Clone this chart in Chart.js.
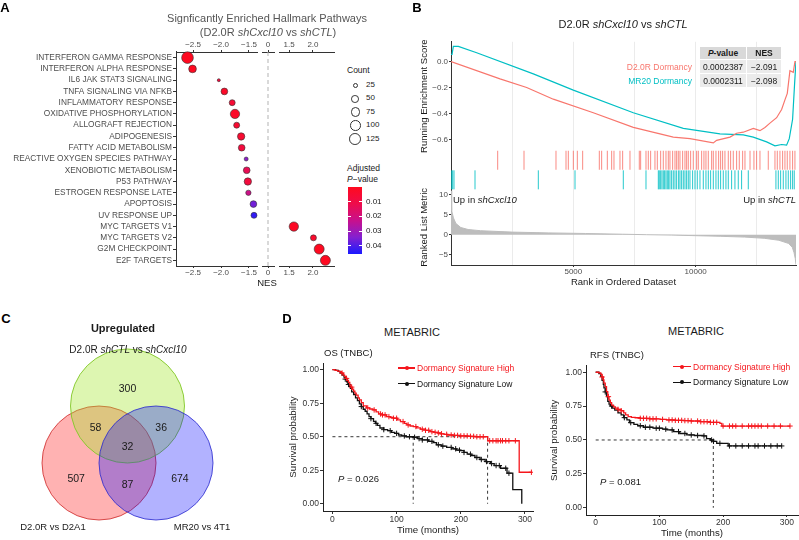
<!DOCTYPE html>
<html>
<head>
<meta charset="utf-8">
<script src="https://cdn.jsdelivr.net/npm/chart.js"></script>
<style>
  body { margin: 0; background: #fff; }
  #fig { position: relative; width: 799px; height: 540px; overflow: hidden;
         font-family: "Liberation Sans", Arial, Helvetica, sans-serif; color: #1a1a1a; }
  #fig canvas { position: absolute; }
  .t { position: absolute; white-space: nowrap; line-height: 1; }
  .c { transform: translate(-50%, -50%); }
  .l { transform: translate(0, -50%); }
  .r { transform: translate(-100%, -50%); }
  .tag { font-weight: bold; font-size: 13px; color: #000; }
  .cell { position: absolute; display: flex; align-items: center; justify-content: center; font-size: 8.5px; color: #1a1a1a; }
  .hd { background: #d9d9d9; font-weight: bold; }
  .bd { background: #ebebeb; }
</style>
</head>
<body>
<div id="fig">
  <canvas id="nesChart" width="345" height="292" style="left:0;top:0"></canvas>
  <canvas id="gseaChart" width="399" height="253" style="left:400px;top:36px"></canvas>
  <canvas id="vennChart" width="260" height="195" style="left:0;top:345px"></canvas>
  <canvas id="osChart" width="252" height="185" style="left:285px;top:355px"></canvas>
  <canvas id="rfsChart" width="253" height="185" style="left:546px;top:355px"></canvas>

  <!-- panel A -->
  <div class="t c tag" style="left:5px;top:7px">A</div>
  <div class="t c" style="left:267px;top:18px;font-size:11px;color:#555">Signficantly Enriched Hallmark Pathways</div>
  <div class="t c" style="left:268px;top:32px;font-size:11px;color:#555">(D2.0R <i>shCxcl10</i> vs <i>shCTL</i>)</div>
  <div class="t c" style="left:267px;top:283px;font-size:9.5px">NES</div>
  <div class="t l" style="left:347px;top:70px;font-size:8.5px">Count</div>
  <div class="t l" style="left:347px;top:168px;font-size:8.5px">Adjusted</div>
  <div class="t l" style="left:347px;top:179px;font-size:8.5px"><i>P</i>&minus;value</div>

  <!-- panel B -->
  <div class="t c tag" style="left:417px;top:7px">B</div>
  <div class="t c" style="left:623px;top:24px;font-size:11px">D2.0R <i>shCxcl10</i> vs <i>shCTL</i></div>
  <div class="cell hd" style="left:700px;top:47px;width:46px;height:12px"><i>P</i>-value</div>
  <div class="cell hd" style="left:747px;top:47px;width:34px;height:12px">NES</div>
  <div class="cell bd" style="left:700px;top:60px;width:46px;height:13px">0.0002387</div>
  <div class="cell bd" style="left:747px;top:60px;width:34px;height:13px">&minus;2.091</div>
  <div class="cell bd" style="left:700px;top:74px;width:46px;height:13px">0.0002311</div>
  <div class="cell bd" style="left:747px;top:74px;width:34px;height:13px">&minus;2.098</div>
  <div class="t r" style="left:692px;top:67px;font-size:8.5px;color:#f8766d">D2.0R Dormancy</div>
  <div class="t r" style="left:692px;top:81px;font-size:8.5px;color:#00bfc4">MR20 Dormancy</div>
  <div class="t l" style="left:453px;top:200px;font-size:9.5px">Up in <i>shCxcl10</i></div>
  <div class="t r" style="left:796px;top:200px;font-size:9.5px">Up in <i>shCTL</i></div>

  <!-- panel C -->
  <div class="t c tag" style="left:6px;top:318px">C</div>
  <div class="t c" style="left:123px;top:328px;font-size:11px;font-weight:bold">Upregulated</div>
  <div class="t c" style="left:128px;top:350px;font-size:10px">D2.0R <i>shCTL</i> vs <i>shCxcl10</i></div>
  <div class="t c" style="left:53px;top:527px;font-size:9.5px">D2.0R vs D2A1</div>
  <div class="t c" style="left:202px;top:527px;font-size:9.5px">MR20 vs 4T1</div>

  <!-- panel D -->
  <div class="t c tag" style="left:287px;top:318px">D</div>
  <div class="t c" style="left:412px;top:332px;font-size:11px">METABRIC</div>
  <div class="t l" style="left:324px;top:353px;font-size:9.5px">OS (TNBC)</div>
  <div class="t l" style="left:338px;top:479px;font-size:9.5px"><i>P</i> = 0.026</div>
  <div class="t c" style="left:696px;top:331px;font-size:11px">METABRIC</div>
  <div class="t l" style="left:590px;top:355px;font-size:9.5px">RFS (TNBC)</div>
  <div class="t l" style="left:600px;top:482px;font-size:9.5px"><i>P</i> = 0.081</div>
</div>

<script>
Chart.defaults.font.family = '"Liberation Sans", Arial, Helvetica, sans-serif';
Chart.defaults.animation = false;
Chart.defaults.plugins.legend.display = false;
Chart.defaults.plugins.tooltip.enabled = false;

// ---------- A: hallmark pathways ----------
const pathways = [
    'INTERFERON GAMMA RESPONSE', 'INTERFERON ALPHA RESPONSE', 'IL6 JAK STAT3 SIGNALING',
    'TNFA SIGNALING VIA NFKB', 'INFLAMMATORY RESPONSE', 'OXIDATIVE PHOSPHORYLATION',
    'ALLOGRAFT REJECTION', 'ADIPOGENESIS', 'FATTY ACID METABOLISM',
    'REACTIVE OXYGEN SPECIES PATHWAY', 'XENOBIOTIC METABOLISM', 'P53 PATHWAY',
    'ESTROGEN RESPONSE LATE', 'APOPTOSIS', 'UV RESPONSE UP', 'MYC TARGETS V1',
    'MYC TARGETS V2', 'G2M CHECKPOINT', 'E2F TARGETS'
];
const nes = [-2.60, -2.51, -2.04, -1.94, -1.80, -1.75, -1.72, -1.64, -1.63, -1.55,
             -1.54, -1.52, -1.51, -1.42, -1.41, 1.60, 2.01, 2.13, 2.26];
const geneCount = [137, 59, 9, 45, 36, 87, 36, 54, 45, 16, 45, 54, 28, 45, 36, 87, 36, 100, 100];
const padj = [0.001, 0.001, 0.008, 0.003, 0.006, 0.003, 0.005, 0.005, 0.008, 0.033,
              0.013, 0.008, 0.022, 0.036, 0.043, 0.002, 0.004, 0.001, 0.001];
const countBreaks = [25, 50, 75, 100, 125];
const padjBreaks = [0.01, 0.02, 0.03, 0.04];
const nesTicksLeft = [-2.5, -2.0, -1.5];
const nesTicksMid = [0];
const nesTicksRight = [1.5, 2.0];

const padjLimits = [0.0002, 0.0454];
const padjStops = [[0, [255, 10, 30]], [0.25, [238, 12, 75]], [0.5, [200, 16, 140]],
                   [0.75, [132, 32, 208]], [1, [26, 26, 255]]];

function padjColour(p) {
    const t = Math.min(1, Math.max(0, (p - padjLimits[0]) / (padjLimits[1] - padjLimits[0])));
    for (let i = 1; i < padjStops.length; i++) {
        const [t0, c0] = padjStops[i - 1];
        const [t1, c1] = padjStops[i];
        if (t <= t1) {
            const f = (t - t0) / (t1 - t0);
            return 'rgb(' + c0.map((v, k) => Math.round(v + (c1[k] - v) * f)).join(',') + ')';
        }
    }
    return 'rgb(26,26,255)';
}

function fmtNes(v) {
    if (v === 0) return '0';
    return (v < 0 ? '\u2212' : '') + Math.abs(v).toFixed(1);
}

// one piece of the broken NES axis
function nesSegment(pos, order, stack, width, min, max, ticks) {
    const shown = ticks.length > 0;
    return {
        type: 'linear', position: pos, weight: order, stack: stack, stackWeight: width,
        min: min, max: max,
        afterBuildTicks: s => { s.ticks = ticks.map(v => ({value: v})); },
        afterFit: s => { s.height = pos === 'top' ? 14 : 26; },
        ticks: {display: shown, padding: 0, color: '#4d4d4d', font: {size: 8}, callback: v => fmtNes(v)},
        grid: {display: shown, drawOnChartArea: false, drawTicks: shown, tickLength: 2, tickColor: '#333'},
        border: {display: shown, color: '#333'}
    };
}

const zeroLine = {
    id: 'zeroLine',
    beforeDatasetsDraw(chart) {
        const x = chart.scales.xM.getPixelForValue(0);
        const {top, bottom} = chart.chartArea;
        const ctx = chart.ctx;
        ctx.save();
        ctx.strokeStyle = '#b3b3b3';
        ctx.lineWidth = 1;
        ctx.setLineDash([4, 3]);
        ctx.beginPath();
        ctx.moveTo(x, top);
        ctx.lineTo(x, bottom);
        ctx.stroke();
        ctx.restore();
    }
};

const nesPoint = i => ({x: nes[i], y: pathways[i], r: Math.sqrt(geneCount[i]) / 2, p: padj[i]});
const rows = pathways.map((_, i) => i);
const dotStyle = {
    backgroundColor: c => c.raw ? padjColour(c.raw.p) : '#f00',
    borderColor: '#333',
    borderWidth: 0.6,
    clip: false,
    yAxisID: 'y'
};

new Chart(document.getElementById('nesChart'), {
    type: 'bubble',
    data: {
        datasets: [
            Object.assign({data: rows.filter(i => nes[i] < 0).map(nesPoint), xAxisID: 'xL'}, dotStyle),
            Object.assign({data: rows.filter(i => nes[i] > 0).map(nesPoint), xAxisID: 'xR'}, dotStyle)
        ]
    },
    options: {
        responsive: false,
        layout: {autoPadding: false, padding: {top: 38, right: 11, bottom: 0, left: 0}},
        scales: {
            y: {
                type: 'category', labels: pathways, offset: true, position: 'left',
                afterFit: s => { s.width = 176; },
                ticks: {color: '#4d4d4d', font: {size: 8.3}, padding: 1, autoSkip: false},
                grid: {drawOnChartArea: false, tickLength: 3, tickColor: '#333'},
                border: {color: '#333'}
            },
            xL: nesSegment('top', 5, 'nesTop', 81, -2.806, -1.356, nesTicksLeft),
            xG1: nesSegment('top', 4, 'nesTop', 5, 0, 1, []),
            xM: nesSegment('top', 3, 'nesTop', 12, -0.11, 0.11, nesTicksMid),
            xG2: nesSegment('top', 2, 'nesTop', 5, 0, 1, []),
            xR: nesSegment('top', 1, 'nesTop', 55, 1.29, 2.44, nesTicksRight),
            bL: nesSegment('bottom', 1, 'nesBot', 81, -2.806, -1.356, nesTicksLeft),
            bG1: nesSegment('bottom', 2, 'nesBot', 5, 0, 1, []),
            bM: nesSegment('bottom', 3, 'nesBot', 12, -0.11, 0.11, nesTicksMid),
            bG2: nesSegment('bottom', 4, 'nesBot', 5, 0, 1, []),
            bR: nesSegment('bottom', 5, 'nesBot', 55, 1.29, 2.44, nesTicksRight)
        }
    },
    plugins: [zeroLine]
});

// legend for A (size + colour bar)
const fig = document.getElementById('fig');
function addBox(css, html, cls) {
    const d = document.createElement('div');
    if (cls) d.className = cls;
    d.style.cssText = css;
    if (html) d.innerHTML = html;
    fig.appendChild(d);
}
countBreaks.forEach((c, i) => {
    const y = 85 + i * 13.4;
    const d = Math.sqrt(c);
    addBox(`position:absolute;left:${355 - d / 2}px;top:${y - d / 2}px;width:${d - 1.4}px;height:${d - 1.4}px;border:0.7px solid #333;border-radius:50%;`);
    addBox(`left:366px;top:${y}px;font-size:8px;`, String(c), 't l');
});
const barTop = 187, barH = 67;
const grad = padjStops.map(s => `rgb(${s[1].join(',')}) ${s[0] * 100}%`).join(',');
addBox(`position:absolute;left:348px;top:${barTop}px;width:14px;height:${barH}px;background:linear-gradient(to bottom,${grad});`);
padjBreaks.forEach(p => {
    const y = barTop + (p - padjLimits[0]) / (padjLimits[1] - padjLimits[0]) * barH;
    addBox(`position:absolute;left:348px;top:${y - 0.5}px;width:3px;height:1px;background:#fff;`);
    addBox(`position:absolute;left:359px;top:${y - 0.5}px;width:3px;height:1px;background:#fff;`);
    addBox(`left:366px;top:${y}px;font-size:8px;`, p.toFixed(2), 't l');
});

// ---------- B: GSEA ----------
const geneSets = ['D2.0R Dormancy', 'MR20 Dormancy'];
const esRankD2 = [0, 2003, 3092, 4182, 5816, 7451, 9085, 9766, 10720, 10856, 11401, 11673, 11946,
                  12355, 12627, 12831, 13035, 13308, 13512, 13648, 13744, 13852, 13989, 14057, 14100];
const esD2 = [0.0, -0.133, -0.2, -0.29, -0.395, -0.508, -0.583, -0.595, -0.628, -0.608, -0.583,
              -0.553, -0.545, -0.515, -0.533, -0.508, -0.475, -0.433, -0.37, -0.295, -0.245,
              -0.07, -0.083, 0.0, 0.0];
const esRankMR20 = [0, 42, 96, 300, 1050, 3365, 4999, 7451, 9494, 10992, 11946, 12355, 12899,
                    13240, 13512, 13716, 13825, 13961, 14043, 14098];
const esMR20 = [0.055, 0.055, 0.118, 0.118, 0.068, -0.095, -0.22, -0.395, -0.515, -0.558, -0.565,
                -0.583, -0.62, -0.65, -0.64, -0.645, -0.595, -0.445, -0.17, 0.0];
const hitsD2 = [1908, 2984, 4291, 4700, 4795, 5000, 5163, 5381, 6062, 6157, 6389, 6566, 6661, 6906,
                7015, 7315, 7696, 7751, 7969, 8064, 8159, 8336, 8432, 8568, 8677, 8786, 8881, 8949,
                9058, 9154, 9222, 9290, 9358, 9467, 9562, 9630, 9698, 9794, 9903, 10039, 10107,
                10243, 10338, 10420, 10516, 10652, 10720, 10829, 10938, 11019, 11101, 11196, 11333,
                11428, 11537, 11673, 11782, 11919, 12014, 12221, 12381, 12490, 12627, 12967, 13240,
                13335, 13444, 13553, 13648, 13743, 13852, 13961, 14056];
const hitsMR20 = [28, 69, 123, 981, 3569, 5068, 7042, 7969, 8473, 8513, 8568, 8622, 8677, 8731,
                  8786, 8840, 8895, 8949, 9017, 9085, 9154, 9222, 9303, 9358, 9426, 9494, 9562,
                  9630, 9698, 9766, 9875, 9971, 10066, 10175, 10311, 10420, 10516, 10611, 10720,
                  10829, 10924, 11019, 11128, 11237, 11333, 11469, 11605, 11741, 11877, 12150,
                  13280, 13376, 13472, 13580, 13689, 13784, 13880, 13961, 14029];
const metricRank = [0, 15, 40, 100, 200, 400, 700, 1200, 2500, 4000, 5500, 7000, 8000, 9000, 10000,
                    11000, 12000, 12800, 13400, 13800, 13950, 14020, 14070, 14100];
const metricValue = [11, 8, 6, 4.2, 2.8, 1.8, 1.3, 1.0, 0.65, 0.45, 0.3, 0.12, 0, -0.1, -0.25,
                     -0.4, -0.6, -0.9, -1.4, -2.2, -3.2, -4.5, -6, -7.5];
const rankTicks = [2500, 5000, 7500, 10000, 12500];
const rankLabels = [5000, 10000];
const esTicks = [0, -0.2, -0.4, -0.6];
const metricTicks = [10, 5, 0, -5];

const setColours = ['#f8766d', '#00bfc4'];
const xy = (xs, ys) => xs.map((x, i) => ({x: x, y: ys[i]}));
const minus = v => (v < 0 ? '\u2212' : '') + Math.abs(v);

function leftAxis(order, weight, extra) {
    return Object.assign({
        position: 'left', stack: 'gsea', weight: order, stackWeight: weight,
        afterFit: s => { s.width = 51; },
        border: {color: '#333'}
    }, extra);
}

new Chart(document.getElementById('gseaChart'), {
    type: 'scatter',
    data: {
        datasets: [
            {data: xy(esRankD2, esD2), yAxisID: 'yES', showLine: true, pointRadius: 0,
             borderColor: setColours[0], borderWidth: 1.2},
            {data: xy(esRankMR20, esMR20), yAxisID: 'yES', showLine: true, pointRadius: 0,
             borderColor: setColours[1], borderWidth: 1.2},
            {data: hitsD2.map(h => ({x: h, y: geneSets[0]})), yAxisID: 'yRug',
             pointStyle: 'line', pointRotation: 90, pointRadius: 9.5,
             pointBorderColor: 'rgba(248,118,109,0.85)', pointBorderWidth: 1},
            {data: hitsMR20.map(h => ({x: h, y: geneSets[1]})), yAxisID: 'yRug',
             pointStyle: 'line', pointRotation: 90, pointRadius: 9.5,
             pointBorderColor: 'rgba(0,191,196,0.85)', pointBorderWidth: 1},
            {data: xy(metricRank, metricValue), yAxisID: 'yRank', showLine: true, pointRadius: 0,
             borderColor: '#bdbdbd', borderWidth: 1, backgroundColor: '#bdbdbd', fill: 'origin'}
        ]
    },
    options: {
        responsive: false,
        layout: {autoPadding: false, padding: {top: 1, right: 3, bottom: 0, left: 0}},
        scales: {
            x: {
                type: 'linear', position: 'bottom', min: 0, max: 14100,
                afterBuildTicks: s => { s.ticks = rankTicks.map(v => ({value: v})); },
                afterFit: s => { s.height = 24; },
                ticks: {color: '#4d4d4d', font: {size: 8}, padding: 0,
                        callback: v => rankLabels.includes(v) ? String(v) : ''},
                grid: {color: '#ebebeb', tickLength: 2,
                       tickColor: c => (c.tick && rankLabels.includes(c.tick.value)) ? '#333' : 'rgba(0,0,0,0)'},
                border: {color: '#333'},
                title: {display: true, text: 'Rank in Ordered Dataset', color: '#1a1a1a',
                        font: {size: 9.5}, padding: {top: 0, bottom: 1}}
            },
            yES: leftAxis(3, 111, {
                type: 'linear', min: -0.686, max: 0.153,
                afterBuildTicks: s => { s.ticks = esTicks.map(v => ({value: v})); },
                ticks: {color: '#4d4d4d', font: {size: 8}, padding: 1,
                        callback: v => v === 0 ? '0.0' : '\u2212' + Math.abs(v).toFixed(1)},
                grid: {display: true, drawOnChartArea: false, tickLength: 2, tickColor: '#333'},
                title: {display: true, text: 'Running Enrichment Score', color: '#1a1a1a',
                        font: {size: 9.5}, padding: {top: 19, bottom: 0}}
            }),
            yRug: leftAxis(2, 40, {
                type: 'category', labels: geneSets, offset: true,
                ticks: {display: false},
                grid: {display: false}
            }),
            yRank: leftAxis(1, 77, {
                type: 'linear', min: -7.6, max: 11.3,
                afterBuildTicks: s => { s.ticks = metricTicks.map(v => ({value: v})); },
                ticks: {color: '#4d4d4d', font: {size: 8}, padding: 1, callback: v => minus(v)},
                grid: {display: true, drawOnChartArea: false, tickLength: 2, tickColor: '#333'},
                title: {display: true, text: 'Ranked List Metric', color: '#1a1a1a',
                        font: {size: 9.5}, padding: {top: 19, bottom: 0}}
            })
        }
    }
});

// ---------- C: Venn ----------
const vennSets = ['D2.0R vs D2A1', 'D2.0R shCTL vs shCxcl10', 'MR20 vs 4T1'];
const vennCounts = [300, 58, 36, 32, 507, 87, 674];
// circle centres and label spots, in units of one circle radius (57 px on both axes)
const vennRadiusPx = 57;
const vennCentreX = [-0.5, 0, 0.5];
const vennCentreY = [0, 1, 0];
const vennLabelX = [0, -0.56, 0.59, 0, -0.90, 0, 0.92];
const vennLabelY = [1.30, 0.61, 0.61, 0.28, -0.28, -0.39, -0.28];
const vennFill = ['rgba(255,0,0,0.3)', 'rgba(160,230,40,0.36)', 'rgba(0,0,255,0.3)'];
const vennLine = ['rgba(205,40,40,0.8)', 'rgba(130,200,40,0.9)', 'rgba(40,40,205,0.8)'];

const vennText = {
    id: 'vennText',
    afterDatasetsDraw(chart) {
        const {ctx, scales} = chart;
        ctx.save();
        ctx.fillStyle = '#1a1a1a';
        ctx.font = '10.5px "Liberation Sans", Arial, sans-serif';
        ctx.textAlign = 'center';
        ctx.textBaseline = 'middle';
        vennCounts.forEach((n, i) => {
            ctx.fillText(String(n), scales.x.getPixelForValue(vennLabelX[i]), scales.y.getPixelForValue(vennLabelY[i]));
        });
        ctx.restore();
    }
};

new Chart(document.getElementById('vennChart'), {
    type: 'bubble',
    data: {
        datasets: [{
            data: vennSets.map((s, i) => ({x: vennCentreX[i], y: vennCentreY[i], r: vennRadiusPx})),
            backgroundColor: vennFill,
            borderColor: vennLine,
            borderWidth: 1,
            clip: false
        }]
    },
    options: {
        responsive: false,
        layout: {autoPadding: false, padding: 0},
        scales: {
            x: {type: 'linear', display: false, min: -127.5 / vennRadiusPx, max: 132.5 / vennRadiusPx},
            y: {type: 'linear', display: false, min: -77 / vennRadiusPx, max: 118 / vennRadiusPx}
        }
    },
    plugins: [vennText]
});

// ---------- D: Kaplan-Meier ----------
const osHighTime = [0, 4, 8, 11, 14, 17, 19, 21, 23, 25, 27, 29, 31, 33, 35, 37, 40, 42, 45, 48, 53, 58,
                    63, 68, 72, 76, 84, 90, 95, 101, 106, 112, 116, 121, 126, 131, 137, 145, 152, 158,
                    164, 168, 174, 179, 188, 199, 211, 222, 242, 291, 310];
const osHighSurv = [1, 0.995, 0.99, 0.985, 0.975, 0.96, 0.95, 0.935, 0.92, 0.905, 0.885, 0.87, 0.855,
                    0.84, 0.825, 0.81, 0.79, 0.775, 0.755, 0.73, 0.715, 0.707, 0.70, 0.685, 0.67,
                    0.663, 0.65, 0.645, 0.638, 0.625, 0.613, 0.60, 0.588, 0.58, 0.576, 0.566, 0.556,
                    0.548, 0.538, 0.533, 0.528, 0.522, 0.518, 0.513, 0.51, 0.506, 0.503, 0.50, 0.47,
                    0.235, 0.235];
const osHighCensor = [15, 22, 30, 55, 65, 75, 78, 82, 88, 95, 100, 110, 118, 130, 140, 145, 150, 155,
                      160, 165, 170, 178, 185, 190, 195, 200, 205, 210, 215, 220, 225, 230, 235, 245,
                      250, 255, 258, 262, 265, 270, 275, 285, 310];
const osLowTime = [0, 5, 9, 12, 15, 18, 20, 22, 24, 26, 28, 30, 33, 36, 39, 42, 45, 48, 51, 54, 57, 60,
                   64, 67, 70, 74, 80, 86, 92, 97, 103, 108, 115, 126, 133, 140, 150, 157, 162, 170,
                   178, 186, 193, 199, 205, 210, 216, 222, 230, 238, 246, 252, 262, 272, 281, 295];
const osLowSurv = [1, 0.995, 0.988, 0.975, 0.96, 0.945, 0.93, 0.91, 0.89, 0.875, 0.86, 0.835, 0.815,
                   0.79, 0.77, 0.745, 0.725, 0.705, 0.69, 0.67, 0.65, 0.635, 0.615, 0.6, 0.585, 0.565,
                   0.553, 0.545, 0.532, 0.525, 0.513, 0.506, 0.5, 0.496, 0.486, 0.476, 0.466, 0.456,
                   0.44, 0.43, 0.42, 0.41, 0.4, 0.396, 0.383, 0.37, 0.36, 0.345, 0.33, 0.315, 0.3,
                   0.285, 0.265, 0.228, 0.106, 0];
const osLowCensor = [20, 25, 45, 60, 68, 80, 90, 100, 112, 120, 128, 135, 140, 148, 155, 165, 172, 185,
                     192, 198, 205, 215, 225, 232, 240, 248, 255, 260, 270, 275];
const osMedians = [125.8, 241.8];

const rfsHighTime = [0, 5, 8, 10, 12, 13, 15, 17, 19, 21, 23, 25, 28, 31, 35, 40, 44, 47, 51, 56, 62,
                     70, 85, 101, 111, 125, 138, 150, 164, 180, 195, 198, 305];
const rfsHighSurv = [1, 0.995, 0.985, 0.965, 0.943, 0.92, 0.894, 0.857, 0.82, 0.795, 0.775, 0.758,
                     0.745, 0.735, 0.726, 0.716, 0.7, 0.685, 0.672, 0.667, 0.664, 0.66, 0.656, 0.652,
                     0.648, 0.645, 0.643, 0.64, 0.635, 0.63, 0.623, 0.603, 0.603];
const rfsHighCensor = [10, 20, 35, 40, 70, 75, 80, 85, 90, 95, 105, 115, 120, 125, 130, 135, 140, 145,
                       150, 160, 165, 170, 175, 180, 185, 190, 200, 210, 215, 220, 230, 240, 245, 250,
                       255, 260, 270, 280, 290, 305];
const rfsLowTime = [0, 5, 8, 10, 12, 13, 15, 17, 19, 21, 23, 26, 30, 35, 40, 44, 49, 53, 60, 66, 75, 90,
                    105, 112, 122, 132, 143, 155, 169, 174, 180, 185, 190, 208, 292];
const rfsLowSurv = [1, 0.99, 0.97, 0.94, 0.91, 0.885, 0.855, 0.82, 0.785, 0.765, 0.751, 0.735, 0.72,
                    0.7, 0.685, 0.665, 0.648, 0.628, 0.615, 0.605, 0.594, 0.587, 0.58, 0.574, 0.562,
                    0.548, 0.537, 0.533, 0.53, 0.51, 0.5, 0.49, 0.475, 0.456, 0.456];
const rfsLowCensor = [15, 25, 45, 55, 70, 78, 85, 95, 100, 110, 120, 130, 140, 150, 160, 170, 182, 185,
                      195, 210, 220, 230, 240, 250, 255, 265, 275, 285, 292];
const rfsMedians = [184.6];

const kmGroups = ['Dormancy Signature High', 'Dormancy Signature Low'];
const kmColours = ['#f5161c', '#111111'];
const timeTicks = [0, 100, 200, 300];
const survTicks = [0, 0.25, 0.5, 0.75, 1];

function survAt(times, surv, t) {
    let s = surv[0];
    for (let i = 0; i < times.length; i++) {
        if (times[i] <= t) s = surv[i];
    }
    return s;
}

function kmChart(id, curves, medians, box) {
    const datasets = [];
    curves.forEach((g, k) => {
        datasets.push({data: xy(g.time, g.surv), showLine: true, stepped: true, pointRadius: 0,
                       borderColor: kmColours[k], borderWidth: 1.3});
        datasets.push({data: g.censor.map(t => ({x: t, y: survAt(g.time, g.surv, t)})),
                       pointStyle: 'cross', pointRadius: 2.7, pointBorderColor: kmColours[k],
                       pointBorderWidth: 1});
    });
    const dash = {showLine: true, pointRadius: 0, borderColor: '#222', borderWidth: 0.9, borderDash: [3, 3]};
    datasets.push(Object.assign({data: [{x: 0, y: 0.5}, {x: Math.max(...medians), y: 0.5}]}, dash));
    medians.forEach(m => datasets.push(Object.assign({data: [{x: m, y: 0.5}, {x: m, y: 0}]}, dash)));

    new Chart(document.getElementById(id), {
        type: 'scatter',
        data: {datasets: datasets},
        options: {
            responsive: false,
            layout: {autoPadding: false, padding: {top: box.top, right: box.right, bottom: 0, left: 0}},
            scales: {
                x: {
                    type: 'linear', min: box.xMin, max: box.xMax,
                    afterBuildTicks: s => { s.ticks = timeTicks.map(v => ({value: v})); },
                    afterFit: s => { s.height = box.xHeight; },
                    ticks: {color: '#333', font: {size: 8.5}, padding: box.xPad, callback: v => String(v)},
                    grid: {drawOnChartArea: false, tickLength: box.xTick, tickColor: '#333'},
                    border: {color: '#222'},
                    title: {display: true, text: 'Time (months)', color: '#1a1a1a', font: {size: 9.7},
                            padding: {top: 0, bottom: box.xTitlePad}}
                },
                y: {
                    type: 'linear', min: -0.054, max: 1.05,
                    afterBuildTicks: s => { s.ticks = survTicks.map(v => ({value: v})); },
                    afterFit: s => { s.width = box.yWidth; },
                    ticks: {color: '#333', font: {size: 8.5}, padding: 1, callback: v => v.toFixed(2)},
                    grid: {drawOnChartArea: false, tickLength: 3, tickColor: '#333'},
                    border: {color: '#222'},
                    title: {display: true, text: 'Survival probability', color: '#1a1a1a', font: {size: 9.7},
                            padding: {top: 2.2, bottom: 0}}
                }
            }
        }
    });
}

kmChart('osChart', [
    {time: osHighTime, surv: osHighSurv, censor: osHighCensor},
    {time: osLowTime, surv: osLowSurv, censor: osLowCensor}
], osMedians, {top: 8, right: 4, xMin: -14.7, xMax: 312.5, xHeight: 29, xPad: 1, xTick: 3, xTitlePad: 3.5, yWidth: 38});

kmChart('rfsChart', [
    {time: rfsHighTime, surv: rfsHighSurv, censor: rfsHighCensor},
    {time: rfsLowTime, surv: rfsLowSurv, censor: rfsLowCensor}
], rfsMedians, {top: 10.5, right: 1, xMin: -15.2, xMax: 317.6, xHeight: 25, xPad: 1, xTick: 2, xTitlePad: 0.9, yWidth: 40});

// KM legends
[[398, 417, 368], [673, 693, 366.7]].forEach(([x0, xt, y0]) => {
    kmGroups.forEach((g, k) => {
        const y = y0 + k * 15.5;
        addBox(`position:absolute;left:${x0}px;top:${y - 0.6}px;width:${xt - x0 - 2}px;height:1.3px;background:${kmColours[k]};`);
        addBox(`position:absolute;left:${(x0 + xt - 2) / 2 - 2}px;top:${y - 2}px;width:4px;height:4px;border-radius:50%;background:${kmColours[k]};`);
        addBox(`left:${xt}px;top:${y}px;font-size:8.5px;color:${kmColours[k]};`, g, 't l');
    });
});
</script>
</body>
</html>
